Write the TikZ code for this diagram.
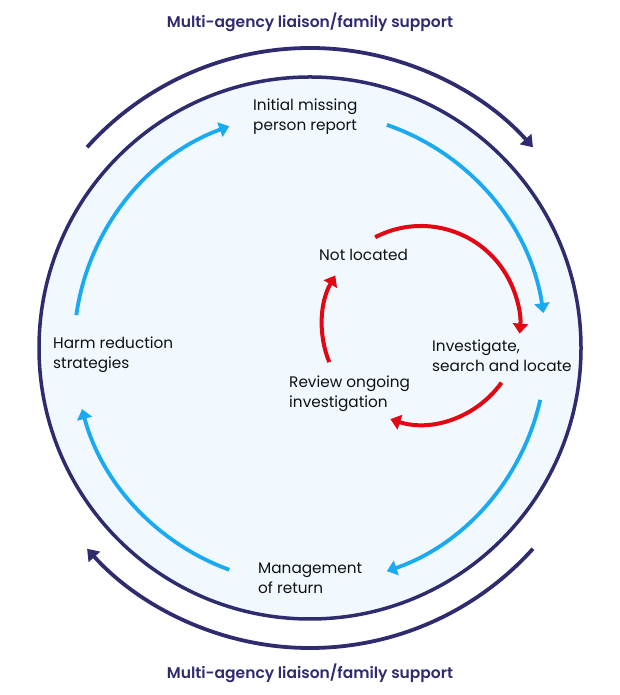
\documentclass[tikz,border=0pt]{standalone}
\usepackage{fontspec}
\setmainfont{Poppins}
\newfontfamily\labelfont{Poppins SemiBold}
\usetikzlibrary{arrows.meta}
\definecolor{navy}{HTML}{2E2B6E}
\definecolor{skyblue}{HTML}{1AAAF2}
\definecolor{redline}{HTML}{E30613}
\definecolor{lightfill}{HTML}{F1F9FE}
\definecolor{txt}{HTML}{111111}
\tikzset{
  outerarc/.style={draw=navy, line width=3.8pt, -{Triangle[width=15pt,length=11pt]}},
  bluearc/.style={draw=skyblue, line width=3.8pt, -{Triangle[width=15pt,length=10pt]}},
  redarc/.style={draw=redline, line width=4pt, -{Triangle[width=15pt,length=10pt]}},
  lbl/.style={text=txt, font=\fontsize{15.3}{20}\selectfont, align=left, inner sep=0pt, anchor=west},
  toplbl/.style={text=navy, font=\labelfont\fontsize{15.5}{18}\selectfont, inner sep=0pt}
}
\begin{document}
\begin{tikzpicture}[x=1pt,y=1pt]
\useasboundingbox (0,0) rectangle (620,695);
\coordinate (C) at (310,347);
\coordinate (R) at (421,370);
\node[circle, draw=navy, fill=lightfill, line width=3.5pt, minimum size=542pt, inner sep=0pt] (main) at (C) {};
% outer arcs
\draw[outerarc] ([shift={(138:300)}]C) arc[start angle=138, end angle=42, radius=300];
\draw[outerarc] ([shift={(-42:300)}]C) arc[start angle=-42, end angle=-138, radius=300];
% blue arcs
\draw[bluearc] ([shift={(71:236)}]C) arc[start angle=71, end angle=8.5, radius=236];
\draw[bluearc] ([shift={(-12.7:236)}]C) arc[start angle=-12.7, end angle=-71, radius=236];
\draw[bluearc] ([shift={(-110:236)}]C) arc[start angle=-110, end angle=-165, radius=236];
\draw[bluearc] ([shift={(172:236)}]C) arc[start angle=172, end angle=110, radius=236];
% red arcs
\draw[redarc] ([shift={(117.6:99)}]R) arc[start angle=117.6, end angle=-5, radius=99];
\draw[redarc] ([shift={(-35.6:99)}]R) arc[start angle=-35.6, end angle=-108, radius=99];
\draw[redarc] ([shift={(202:99)}]R) arc[start angle=202, end angle=150, radius=99];
% labels
\node[toplbl] (toplabel) at (310,673) {Multi-agency liaison/family support};
\node[toplbl] (botlabel) at (310,22) {Multi-agency liaison/family support};
\node[lbl] (initial) at (253,578) {Initial missing\\person report};
\node[lbl] (notloc) at (319,440.5) {Not located};
\node[lbl] (invest) at (432,339) {Investigate,\\search and locate};
\node[lbl] (review) at (289,301.5) {Review ongoing\\investigation};
\node[lbl] (harm) at (53,340) {Harm reduction\\strategies};
\node[lbl] (mgmt) at (258,117) {Management\\of return};
\end{tikzpicture}
\end{document}
